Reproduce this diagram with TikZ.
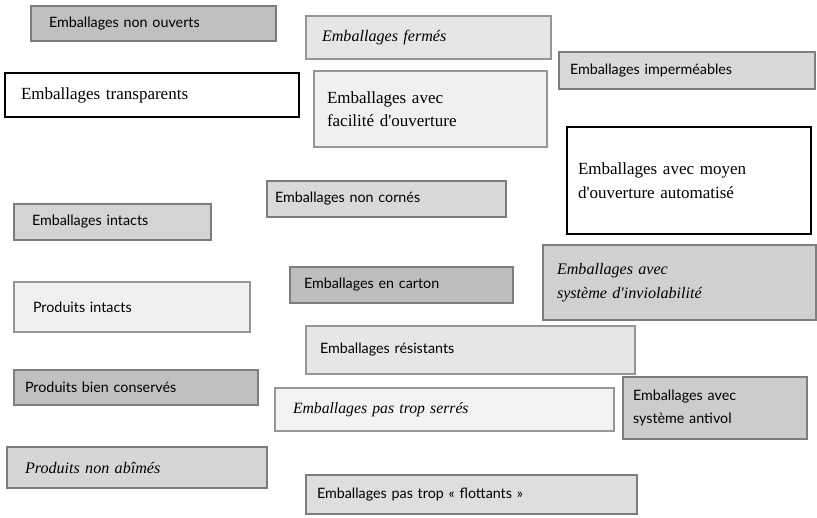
\documentclass[tikz,border=0pt]{standalone}
\usepackage{fontspec}
\setmainfont{Liberation Serif}
\setsansfont{Lato}
\definecolor{g190}{RGB}{190,190,190}
\definecolor{g192}{RGB}{192,192,192}
\definecolor{g204}{RGB}{204,204,204}
\definecolor{g208}{RGB}{208,208,208}
\definecolor{g212}{RGB}{212,212,212}
\definecolor{g214}{RGB}{214,214,214}
\definecolor{g216}{RGB}{217,217,217}
\definecolor{g220}{RGB}{222,222,222}
\definecolor{g230}{RGB}{230,230,230}
\definecolor{g240}{RGB}{240,240,240}
\definecolor{g242}{RGB}{243,243,243}
\definecolor{edge}{RGB}{125,125,125}
\definecolor{edgelight}{RGB}{150,150,150}
\tikzset{
  panel/.style={draw=edge, line width=1.1bp, rectangle, anchor=north west,
    inner ysep=0pt, outer sep=0pt, align=left},
  lightpanel/.style={panel, draw=edgelight},
  plainpanel/.style={panel, draw=black, fill=white},
  sanstxt/.style={font=\sffamily\fontsize{14.3bp}{22.5bp}\selectfont},
  seriftxt/.style={font=\rmfamily\fontsize{17bp}{23.5bp}\selectfont},
  italtxt/.style={font=\rmfamily\itshape\fontsize{16.1bp}{23.5bp}\selectfont},
  smallital/.style={font=\rmfamily\itshape\fontsize{15.7bp}{23.5bp}\selectfont},
}
% box with top-left corner, size (w,h) and left text padding p
\newcommand\boxat[7]{%
  \node[#1, minimum width=#4bp, minimum height=#5bp, inner xsep=#6bp,
        text width=\dimexpr #4bp - 2\dimexpr #6bp\relax\relax]
        (#7) at (#2,#3)}
\newcommand\apos{\textquotesingle}
\begin{document}
\begin{tikzpicture}[x=1bp, y=-1bp]
\useasboundingbox (0,0) rectangle (817,518);

\boxat{panel, fill=g192, sanstxt}{31}{6}{245}{35}{18}{nonouv} {Emballages non ouverts};
\boxat{lightpanel, fill=g230, italtxt}{306}{16}{245}{43}{16}{fermes} {Emballages fermés};
\boxat{panel, fill=g216, sanstxt}{559}{52}{256}{37}{11}{imperm} {Emballages imperméables};
\boxat{plainpanel, seriftxt}{5}{73}{294}{44}{16}{transp} {Emballages transparents};
\boxat{lightpanel, fill=g240, seriftxt}{314}{71}{233}{76}{13}{facil} {Emballages avec\\facilité d\apos ouverture};
\boxat{plainpanel, seriftxt}{567}{127}{244}{107}{11}{moyen} {Emballages avec moyen\\d\apos ouverture automatisé};
\boxat{panel, fill=g216, sanstxt}{267}{181}{239}{36}{8}{noncor} {Emballages non cornés};
\boxat{panel, fill=g212, sanstxt}{14}{204}{197}{36}{18}{embint} {Emballages intacts};
\boxat{panel, fill=g208, italtxt}{543}{245}{273}{75}{14}{inviol} {Emballages avec\\système d\apos inviolabilité};
\boxat{panel, fill=g190, sanstxt}{290}{267}{223}{36}{14}{carton} {Emballages en carton};
\boxat{lightpanel, fill=g240, sanstxt}{14}{282}{236}{50}{19}{prodint} {Produits intacts};
\boxat{lightpanel, fill=g230, sanstxt}{306}{326}{329}{48}{14}{resist} {Emballages résistants};
\boxat{panel, fill=g192, sanstxt}{14}{370}{244}{35}{11}{biencons} {Produits bien conservés};
\boxat{lightpanel, fill=g242, smallital}{275}{388}{339}{43}{18}{serres} {Emballages pas trop serrés};
\boxat{panel, fill=g204, sanstxt}{623}{377}{184}{62}{10}{antivol} {Emballages avec\\système antivol};
\boxat{panel, fill=g214, italtxt}{7}{447}{260}{41}{18}{nonabim} {Produits non abîmés};
\boxat{panel, fill=g220, sanstxt}{306}{475}{331}{39}{11}{flott} {Emballages pas trop « flottants »};
\end{tikzpicture}
\end{document}
